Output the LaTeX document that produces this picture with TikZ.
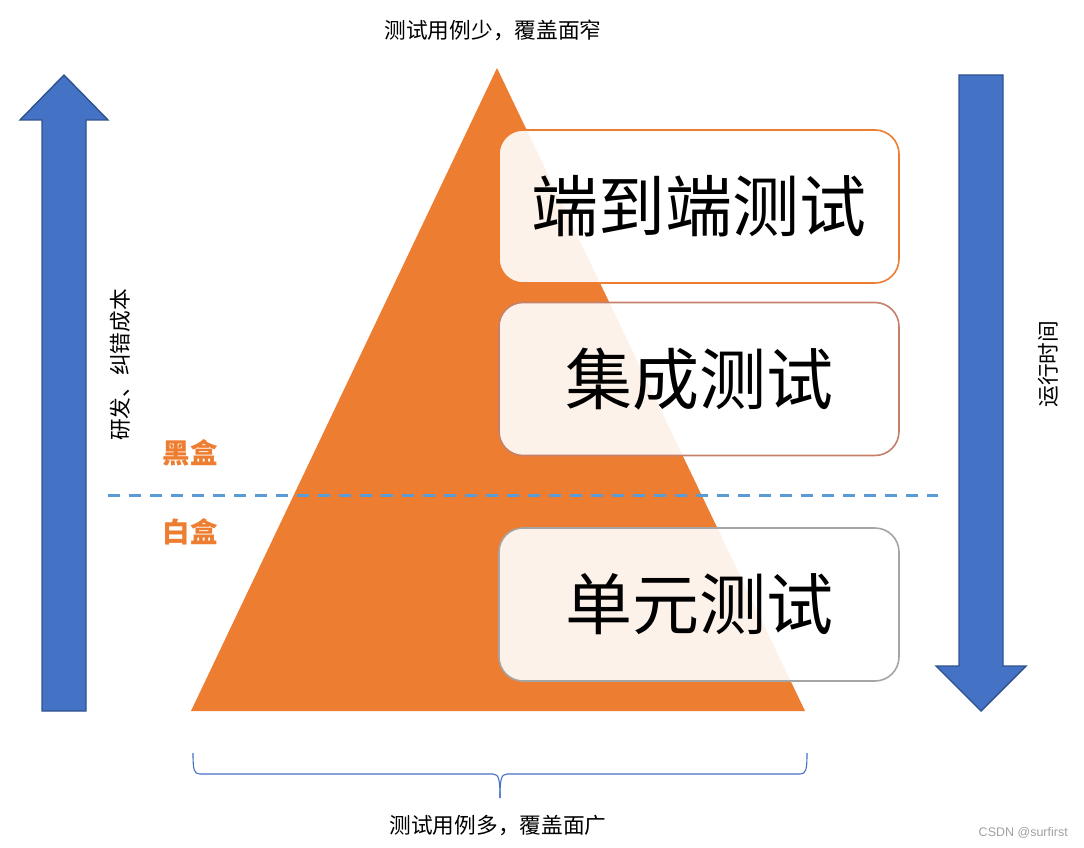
\documentclass[tikz,border=0pt]{standalone}
\usepackage{fontspec}
\setmainfont{Noto Sans CJK SC}
\newfontfamily\latinsans{Liberation Sans}
\definecolor{orangeA}{HTML}{ED7D31}
\definecolor{blueA}{HTML}{4472C4}
\definecolor{blueB}{HTML}{2F528F}
\definecolor{blueC}{HTML}{5B9BD5}
\definecolor{boxTwo}{HTML}{C5806A}
\definecolor{boxThree}{HTML}{A5A5A5}
\definecolor{wm}{HTML}{A0A0A0}
\newcommand{\liftlabel}[1]{\raisebox{4.5pt}{#1}}
\tikzset{
  bigarrow/.style={fill=blueA, draw=blueB, line width=1.4pt, line join=miter},
  levelbox/.style={rounded corners=24pt, fill=white, fill opacity=0.9, text opacity=1, line width=1.6pt, minimum width=400pt, minimum height=153pt, inner sep=0pt, font=\fontsize{67}{70}\selectfont},
  smalltext/.style={font=\fontsize{21.7}{23}\selectfont, inner sep=0pt},
  boxlabel/.style={font=\fontsize{27.5}{29}\selectfont\bfseries, text=orangeA, inner sep=0pt},
}
\begin{document}
\begin{tikzpicture}[x=1pt,y=-1pt]
\useasboundingbox (0,0) rectangle (1084,848);
% triangle
\fill[orangeA] (497,68) -- (805,711) -- (191,711) -- cycle;
% left up arrow
\draw[bigarrow] (64,75) -- (108,120) -- (86,120) -- (86,711) -- (42,711) -- (42,120) -- (20,120) -- cycle;
% right down arrow
\draw[bigarrow] (959,75) -- (1003,75) -- (1003,666) -- (1026,666) -- (981,711) -- (936,666) -- (959,666) -- cycle;
% dashed line
\coordinate (dl) at (108,495);
\coordinate (dr) at (938,495);
\draw[blueC, line width=3pt, dash pattern=on 12pt off 9pt] (dl) -- (dr);
% boxes
\node[levelbox, draw=orangeA] (e2e) at (699,206.5) {\liftlabel{端到端测试}};
\node[levelbox, draw=boxTwo] (integ) at (699,379) {\liftlabel{集成测试}};
\node[levelbox, draw=boxThree] (unit) at (699,604.5) {\liftlabel{单元测试}};
% labels
\node[boxlabel] (black) at (190,453) {黑盒};
\node[boxlabel] (white) at (190,532) {白盒};
\node[smalltext] (top) at (493,30) {测试用例少，覆盖面窄};
\node[smalltext] (bottom) at (498,826) {测试用例多，覆盖面广};
\node[smalltext, rotate=90] (cost) at (120,365) {研发、纠错成本};
\node[smalltext, rotate=90] (time) at (1048,364) {运行时间};
\node[font=\latinsans\fontsize{12.5}{14}\selectfont, text=wm, inner sep=0pt, anchor=east] (wmark) at (1068,833) {CSDN @surfirst};
% brace
\draw[blueA, line width=1.1pt] (193,753) .. controls (193,770) and (194,774) .. (200,774) -- (493,774) .. controls (499,774) and (500,780) .. (500,798);
\draw[blueA, line width=1.1pt] (807,753) .. controls (807,770) and (806,774) .. (800,774) -- (507,774) .. controls (501,774) and (500,780) .. (500,798);
\end{tikzpicture}
\end{document}
